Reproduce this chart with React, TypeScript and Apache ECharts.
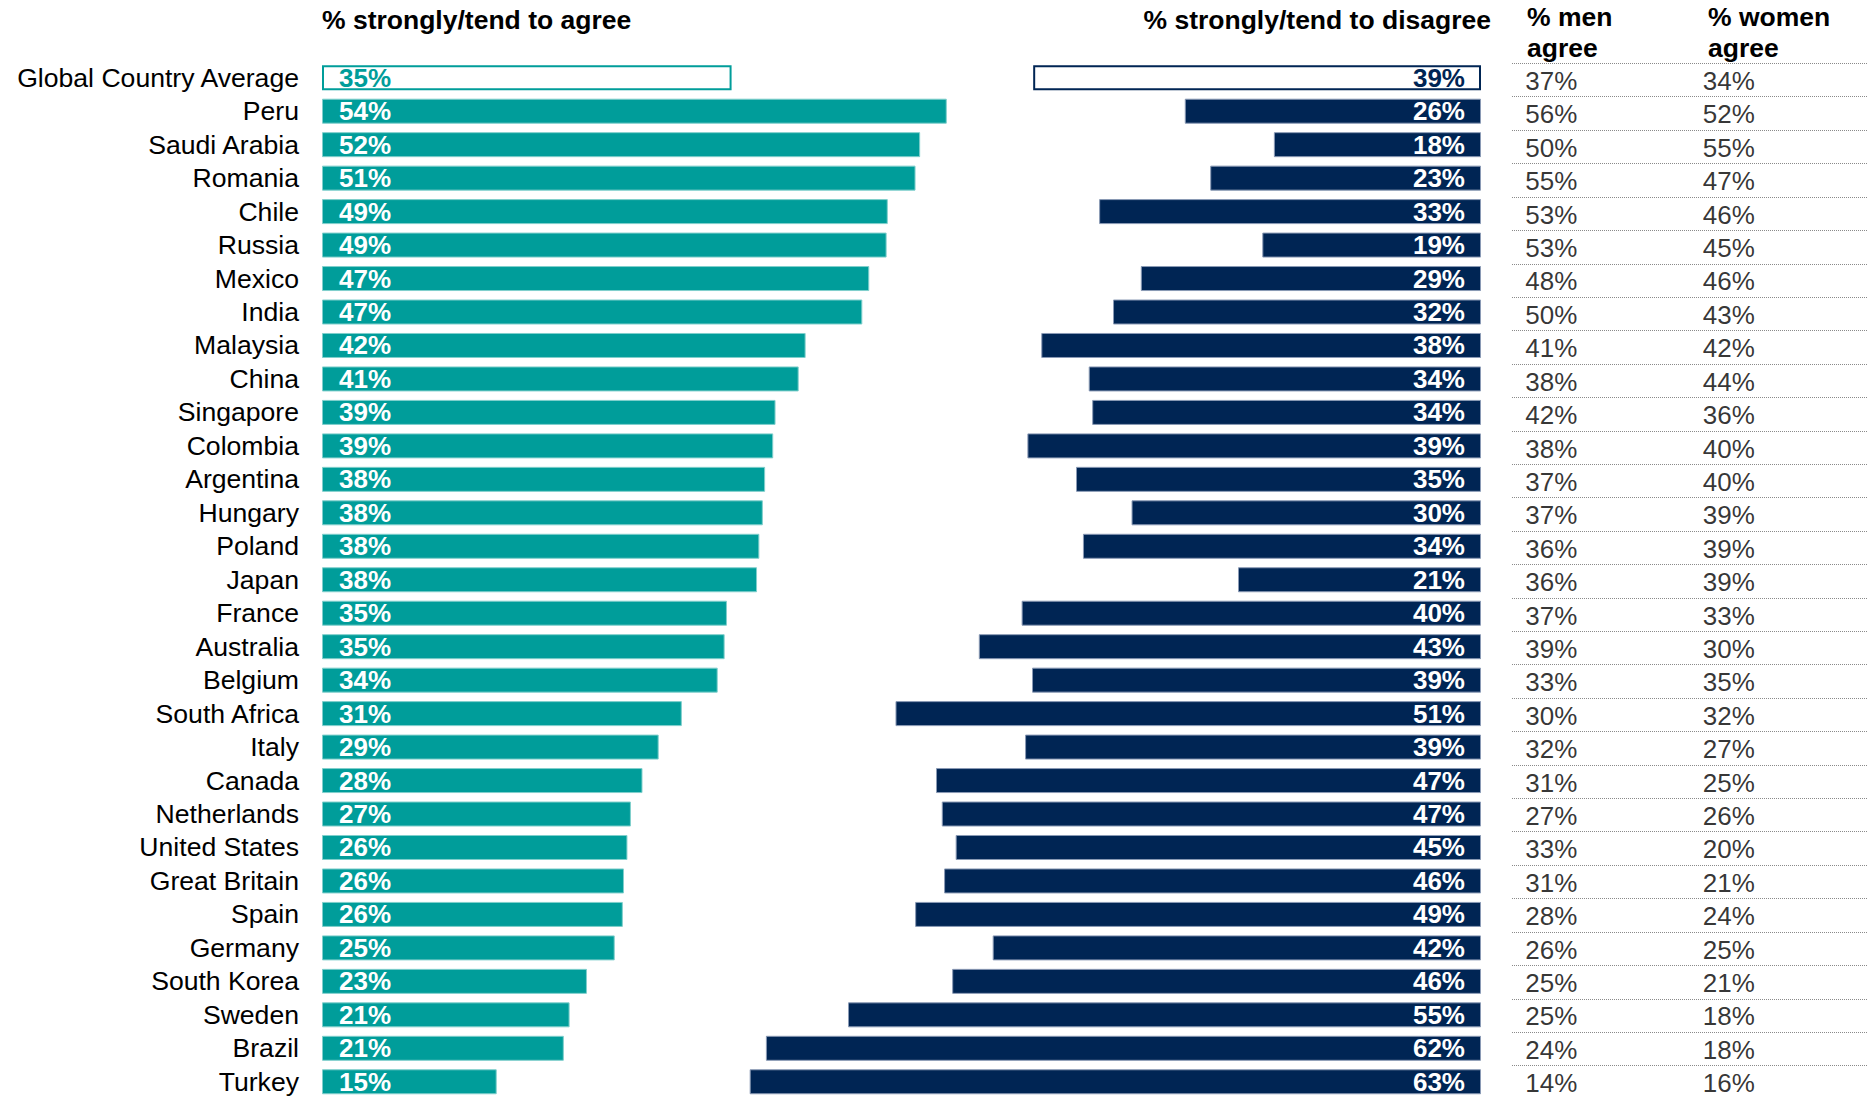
import React, { useEffect, useRef } from "react";
import * as echarts from "echarts";

const categories = [
  "Global Country Average", "Peru", "Saudi Arabia", "Romania", "Chile", "Russia", "Mexico", "India",
  "Malaysia", "China", "Singapore", "Colombia", "Argentina", "Hungary", "Poland", "Japan", "France",
  "Australia", "Belgium", "South Africa", "Italy", "Canada", "Netherlands", "United States",
  "Great Britain", "Spain", "Germany", "South Korea", "Sweden", "Brazil", "Turkey",
];
const agree = [35.4, 54.0, 51.7, 51.3, 48.9, 48.8, 47.3, 46.7, 41.8, 41.2, 39.2, 39.0, 38.3, 38.1, 37.8, 37.6, 35.0, 34.8, 34.2, 31.1, 29.1, 27.7, 26.7, 26.4, 26.1, 26.0, 25.3, 22.9, 21.4, 20.9, 15.1];
const disagree = [38.7, 25.6, 17.9, 23.4, 33.0, 18.9, 29.4, 31.8, 38.0, 33.9, 33.6, 39.2, 35.0, 30.2, 34.4, 21.0, 39.7, 43.4, 38.8, 50.6, 39.4, 47.1, 46.6, 45.4, 46.4, 48.9, 42.2, 45.7, 54.7, 61.8, 63.2];
const menAgree = [37, 56, 50, 55, 53, 53, 48, 50, 41, 38, 42, 38, 37, 37, 36, 36, 37, 39, 33, 30, 32, 31, 27, 33, 31, 28, 26, 25, 25, 24, 14];
const womenAgree = [34, 52, 55, 47, 46, 45, 46, 43, 42, 44, 36, 40, 40, 39, 39, 39, 33, 30, 35, 32, 27, 25, 26, 20, 21, 24, 25, 21, 18, 18, 16];
const tableColumns = ["men", "women"];
const tableHeaders = ["% men\nagree", "% women\nagree"];
const panelTitles = ["% strongly/tend to agree", "% strongly/tend to disagree"];

const TEAL = "#009D9A";
const NAVY = "#002554";
const FONT = '"Liberation Sans", Arial, Helvetica, sans-serif';

export default function App() {
  const ref = useRef<HTMLDivElement>(null);

  useEffect(() => {
    if (!ref.current) return;
    const chart = echarts.init(ref.current, null, { renderer: "svg" });

    const top = 61;
    const h = 1037.5;

    const agreeData = agree.map((v, i) =>
      i === 0
        ? { value: v, itemStyle: { color: "#fff", borderColor: TEAL, borderWidth: 2 }, label: { color: TEAL } }
        : { value: v }
    );
    const disagreeData = disagree.map((v, i) =>
      i === 0
        ? { value: v, itemStyle: { color: "#fff", borderColor: NAVY, borderWidth: 2 }, label: { color: NAVY } }
        : { value: v }
    );

    const tableSeries = [menAgree, womenAgree].map((arr, ci) => ({
      type: "scatter",
      xAxisIndex: 2,
      yAxisIndex: 2,
      symbolSize: 1,
      itemStyle: { color: "transparent" },
      data: categories.map((c) => [tableColumns[ci], c]),
      label: {
        show: true,
        position: "inside",
        align: "left",
        offset: [-75.5, 1],
        formatter: (p: any) => arr[p.dataIndex] + "%",
        fontSize: 26,
        fontFamily: FONT,
        color: "#000",
      },
      silent: true,
    }));

    const titleStyle = { fontSize: 26.5, fontWeight: "bold", fontFamily: FONT, fill: "#000" };

    const option: any = {
      animation: false,
      backgroundColor: "#fff",
      textStyle: { fontFamily: FONT },
      grid: [
        { left: 322, top, width: 694.2, height: h },
        { left: 671, top, width: 810, height: h },
        { left: 1512, top: 63.3, width: 362, height: h },
      ],
      xAxis: [
        { gridIndex: 0, type: "value", min: 0, max: 60, show: false },
        { gridIndex: 1, type: "value", min: 0, max: 70, inverse: true, show: false },
        { gridIndex: 2, type: "category", data: tableColumns, show: false },
      ],
      yAxis: [
        {
          gridIndex: 0,
          type: "category",
          data: categories,
          inverse: true,
          axisLine: { show: false },
          axisTick: { show: false },
          splitLine: { show: false },
          axisLabel: { interval: 0, margin: 23, fontSize: 26.6, color: "#000", fontFamily: FONT },
        },
        { gridIndex: 1, type: "category", data: categories, inverse: true, show: false },
        {
          gridIndex: 2,
          type: "category",
          data: categories,
          inverse: true,
          axisLine: { show: false },
          axisTick: { show: false },
          axisLabel: { show: false },
          splitLine: { show: true, interval: 0, lineStyle: { type: [1, 1], color: "#8a8a8a", width: 1 } },
        },
      ],
      series: [
        {
          type: "bar",
          xAxisIndex: 0,
          yAxisIndex: 0,
          barWidth: 25,
          data: agreeData,
          itemStyle: { color: TEAL, borderColor: "#80CFCC", borderWidth: 1 },
          label: {
            show: true,
            position: "insideLeft",
            distance: 17,
            formatter: (p: any) => Math.round(p.value) + "%",
            color: "#fff",
            fontWeight: "bold",
            fontSize: 26,
            fontFamily: FONT,
          },
          silent: true,
        },
        {
          type: "bar",
          xAxisIndex: 1,
          yAxisIndex: 1,
          barWidth: 25,
          data: disagreeData,
          itemStyle: { color: NAVY, borderColor: "#8A9AB5", borderWidth: 1 },
          label: {
            show: true,
            position: "insideRight",
            distance: 16,
            formatter: (p: any) => Math.round(p.value) + "%",
            color: "#fff",
            fontWeight: "bold",
            fontSize: 26,
            fontFamily: FONT,
          },
          silent: true,
        },
        ...tableSeries,
      ],
      graphic: [
        {
          type: "text",
          x: 322,
          y: 20,
          style: { ...titleStyle, text: panelTitles[0], align: "left", verticalAlign: "middle" },
        },
        {
          type: "text",
          x: 1491,
          y: 20,
          style: { ...titleStyle, text: panelTitles[1], align: "right", verticalAlign: "middle" },
        },
        {
          type: "text",
          x: 1527,
          y: 1,
          style: { ...titleStyle, text: tableHeaders[0], align: "left", verticalAlign: "top", lineHeight: 31 },
        },
        {
          type: "text",
          x: 1708,
          y: 1,
          style: { ...titleStyle, text: tableHeaders[1], align: "left", verticalAlign: "top", lineHeight: 31 },
        },
      ],
    };

    chart.setOption(option);
    return () => chart.dispose();
  }, []);

  return (
    <div
      ref={ref}
      style={{ position: "absolute", left: 0, top: 0, width: 1867, height: 1099, background: "#fff" }}
    />
  );
}
